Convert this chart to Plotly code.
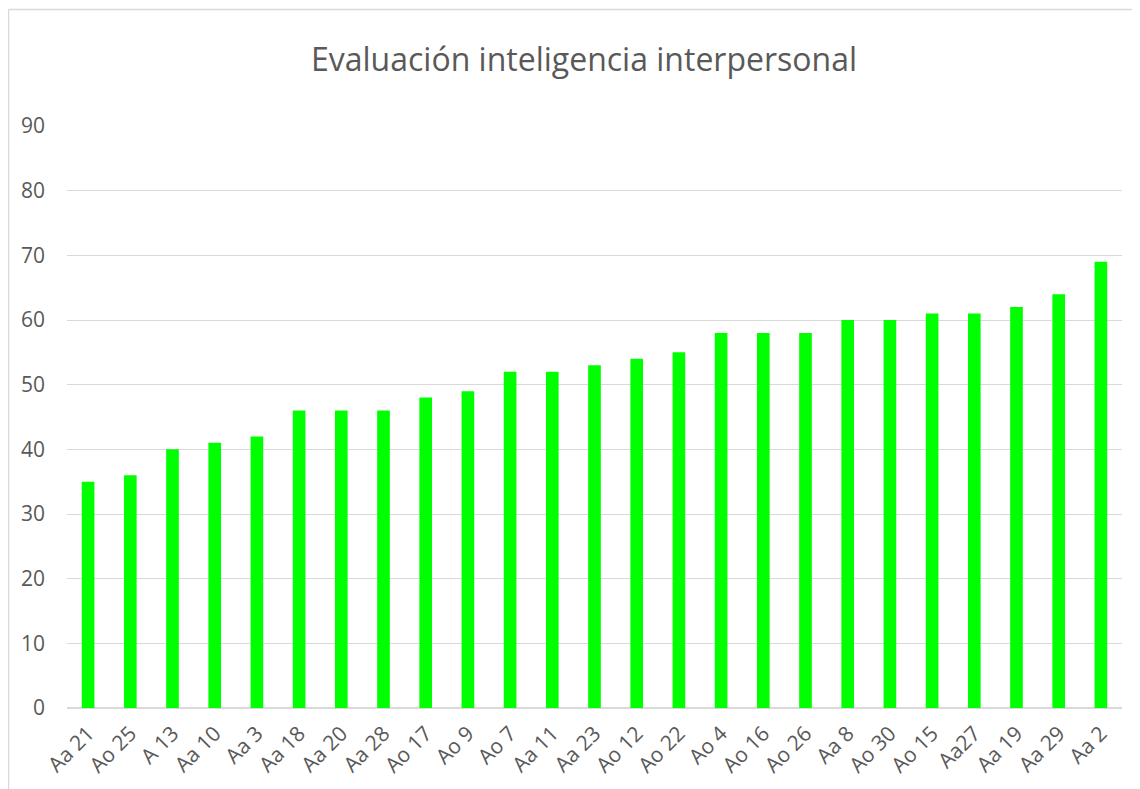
import plotly.graph_objects as go

categories = ["Aa 21", "Ao 25", "A 13", "Aa 10", "Aa 3", "Aa 18", "Aa 20", "Aa 28", "Ao 17", "Ao 9",
              "Ao 7", "Aa 11", "Aa 23", "Ao 12", "Ao 22", "Ao 4", "Ao 16", "Ao 26", "Aa 8", "Ao 30",
              "Ao 15", "Aa27", "Aa 19", "Aa 29", "Aa 2"]
values = [35, 36, 40, 41, 42, 46, 46, 46, 48, 49, 52, 52, 53, 54, 55, 58, 58, 58, 60, 60, 61, 61, 62, 64, 69]
y_ticks = [0, 10, 20, 30, 40, 50, 60, 70, 80, 90]

# page is offset by the browser's 8px body margin
OFF = 8
W, H = 1140 - OFF, 789 - OFF
L, T = 67 - OFF, 126 - OFF
R = W - (1122 - OFF)
B = H - (708 - OFF)
pw, ph = W - L - R, H - T - B

def px_x(x):
    return (x - OFF - L) / pw

def px_y(y):
    return (H - B - (y - OFF)) / ph

fig = go.Figure(go.Bar(x=categories, y=values, marker=dict(color="#00ff00", line=dict(width=0)),
                       width=0.3))

border = "#d9d9d9"
fig.add_shape(type="line", xref="paper", yref="paper", x0=px_x(8.5), x1=px_x(1150), y0=px_y(9.5), y1=px_y(9.5),
              line=dict(color=border, width=1.5))
fig.add_shape(type="line", xref="paper", yref="paper", x0=px_x(8.5), x1=px_x(8.5), y0=px_y(9.5), y1=px_y(800),
              line=dict(color=border, width=1.5))

fig.update_layout(
    width=W, height=H,
    margin=dict(l=L, r=R, t=T, b=B),
    paper_bgcolor="white", plot_bgcolor="white",
    font=dict(family="Open Sans", color="#595959", size=21),
    title=dict(text="Evaluación inteligencia interpersonal", x=(584 - OFF) / W, xanchor="center",
               y=1 - (60 - OFF) / H, yanchor="middle", font=dict(size=32, color="#595959")),
    showlegend=False,
    xaxis=dict(tickangle=-45, showgrid=False, showline=False, ticks="", tickfont=dict(size=21),
               ticklabelstandoff=8, range=[-0.5, len(categories) - 0.5]),
    yaxis=dict(range=[0, 90], tickvals=y_ticks, showgrid=True, gridcolor=border, gridwidth=1,
               zeroline=True, zerolinecolor=border, zerolinewidth=1.5, showline=False, ticks="",
               ticklabelstandoff=21, tickfont=dict(size=21)),
)

fig.write_html("out.html")
